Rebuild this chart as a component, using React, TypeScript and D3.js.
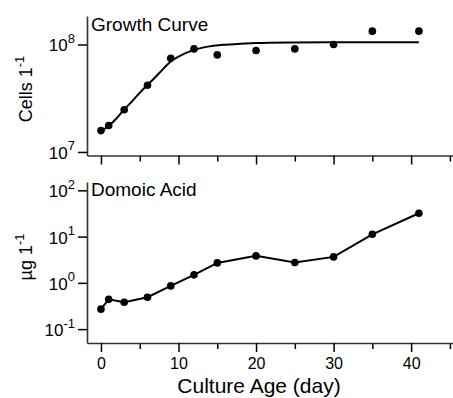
import React, { useEffect, useRef } from 'react';
import * as d3 from 'd3';

// sampling days and measured values
const days = [0, 1, 3, 6, 9, 12, 15, 20, 25, 30, 35, 41];
const cells = [1.58e7, 1.76e7, 2.47e7, 4.17e7, 7.45e7, 9.1e7, 8.0e7, 8.8e7, 9.1e7, 1.0e8, 1.33e8, 1.33e8];
const domoic = [0.27, 0.44, 0.38, 0.49, 0.86, 1.49, 2.7, 3.83, 2.76, 3.64, 11.2, 31.9];

// growth curve fit
const fitDays = [0, 1, 2, 3, 4, 5, 6, 7, 8, 9, 10, 12, 14, 16, 18, 20, 25, 30, 35, 41];
const fitCells = [1.55e7, 1.75e7, 2.05e7, 2.49e7, 2.95e7, 3.55e7, 4.2e7, 4.95e7, 5.9e7, 6.95e7, 7.7e7, 8.9e7, 9.6e7, 9.95e7, 1.015e8, 1.03e8, 1.045e8, 1.05e8, 1.05e8, 1.05e8];

const xMajor = [0, 10, 20, 30, 40];
const xMinor = [5, 15, 25, 35, 45];
const cellTicks = [1e7, 1e8];
const acidTicks = [0.1, 1, 10, 100];

const FONT = "'Liberation Sans', Arial, Helvetica, sans-serif";

export default function App() {
  const ref = useRef<SVGSVGElement>(null);

  useEffect(() => {
    const svg = d3.select(ref.current);
    svg.selectAll('*').remove();
    svg.style('font-family', FONT);

    const x = d3.scaleLinear().domain([-1.8, 45.4]).range([87, 453]);
    const yTop = d3.scaleLog().domain([10 ** 6.967, 10 ** 8.265]).range([155.5, 16]);
    const yBot = d3.scaleLog().domain([10 ** -1.3, 10 ** 2.18]).range([343, 182]);

    const drawX = (yPos: number, labels: boolean) => {
      const gMinor = svg.append('g').attr('transform', `translate(0,${yPos})`)
        .call(d3.axisBottom(x).tickValues(xMinor).tickSize(6).tickSizeOuter(0).tickFormat(() => ''));
      gMinor.select('.domain').remove();
      const g = svg.append('g').attr('transform', `translate(0,${yPos})`)
        .call(d3.axisBottom(x).tickValues(xMajor).tickSize(9).tickSizeOuter(0)
          .tickFormat((d) => labels ? String(d) : ''));
      g.select('.domain').attr('stroke', '#333').attr('stroke-width', 1.6);
      svg.selectAll('.tick line').attr('stroke', '#000').attr('stroke-width', 1.5);
      g.selectAll('.tick text').attr('font-size', 16).attr('font-family', FONT)
        .attr('fill', '#000').attr('y', 15).attr('dy', '0.71em');
    };

    const drawY = (scale: d3.ScaleLogarithmic<number, number>, ticks: number[]) => {
      const g = svg.append('g').attr('transform', 'translate(87,0)')
        .call(d3.axisLeft(scale).tickValues(ticks).tickSize(9).tickSizeOuter(0).tickFormat(() => ''));
      g.select('.domain').attr('stroke', '#333').attr('stroke-width', 1.6);
      g.selectAll('.tick line').attr('stroke', '#000').attr('stroke-width', 1.5);
      ticks.forEach((t) => {
        const txt = svg.append('text')
          .attr('x', 75).attr('y', scale(t) + 7)
          .attr('text-anchor', 'end').attr('font-size', 17).attr('fill', '#000');
        txt.append('tspan').text('10');
        txt.append('tspan').attr('dy', -8.5).attr('font-size', 13).text(String(Math.round(Math.log10(t))));
      });
    };

    const yLabel = (cy: number, main: string) => {
      const t = svg.append('text')
        .attr('transform', `translate(32,${cy}) rotate(-90)`)
        .attr('text-anchor', 'middle').attr('font-size', 18).attr('fill', '#000');
      t.append('tspan').text(main);
      t.append('tspan').attr('dy', -8).attr('font-size', 13).text('-1');
    };

    // top panel: growth curve
    drawX(155.5, false);
    drawY(yTop, cellTicks);
    yLabel(89, 'Cells 1');
    svg.append('text').attr('x', 91).attr('y', 30.5).attr('font-size', 19).text('Growth Curve');

    const fitLine = d3.line<number>()
      .x((d, i) => x(fitDays[i]))
      .y((d) => yTop(d))
      .curve(d3.curveMonotoneX);
    svg.append('path').attr('d', fitLine(fitCells) as string)
      .attr('fill', 'none').attr('stroke', '#000').attr('stroke-width', 2);

    svg.append('g').selectAll('circle').data(cells).enter().append('circle')
      .attr('cx', (d, i) => x(days[i])).attr('cy', (d) => yTop(d)).attr('r', 3.8).attr('fill', '#000');

    // bottom panel: domoic acid
    drawX(343, true);
    drawY(yBot, acidTicks);
    yLabel(257, 'µg 1');
    svg.append('text').attr('x', 91).attr('y', 195.5).attr('font-size', 19).text('Domoic Acid');

    const acidLine = d3.line<number>()
      .x((d, i) => x(days[i]))
      .y((d) => yBot(d));
    svg.append('path').attr('d', acidLine(domoic) as string)
      .attr('fill', 'none').attr('stroke', '#000').attr('stroke-width', 2);

    svg.append('g').selectAll('circle').data(domoic).enter().append('circle')
      .attr('cx', (d, i) => x(days[i])).attr('cy', (d) => yBot(d)).attr('r', 3.8).attr('fill', '#000');

    svg.append('text').attr('x', 259).attr('y', 392.5).attr('text-anchor', 'middle')
      .attr('font-size', 21).text('Culture Age (day)');
  }, []);

  return (
    <svg ref={ref} width={453} height={398}
      style={{ position: 'absolute', left: 0, top: 0, background: 'white' }} />
  );
}
